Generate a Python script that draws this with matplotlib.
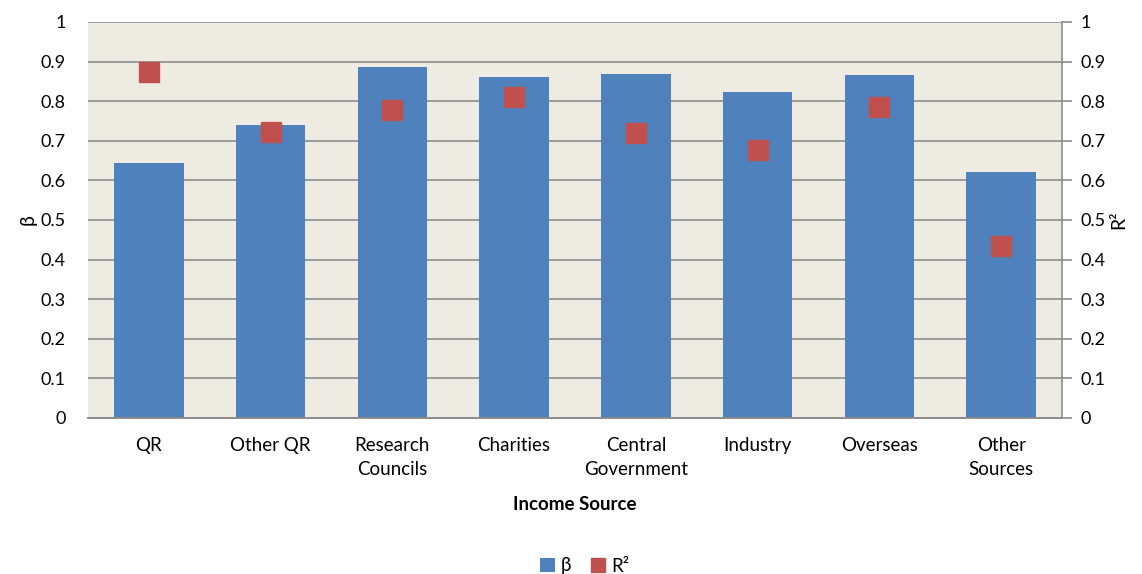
import matplotlib
matplotlib.use("Agg")
import matplotlib.pyplot as plt
import numpy as np
from matplotlib.patches import Patch
from matplotlib.lines import Line2D

categories = ["QR", "Other QR", "Research\nCouncils", "Charities", "Central\nGovernment",
              "Industry", "Overseas", "Other\nSources"]
beta = [0.644, 0.740, 0.886, 0.861, 0.868, 0.823, 0.865, 0.621]
r2 = [0.874, 0.722, 0.778, 0.811, 0.720, 0.677, 0.785, 0.434]
yticks = [0, 0.1, 0.2, 0.3, 0.4, 0.5, 0.6, 0.7, 0.8, 0.9, 1]
ytick_labels = ["0", "0.1", "0.2", "0.3", "0.4", "0.5", "0.6", "0.7", "0.8", "0.9", "1"]

plt.rcParams['font.family'] = ['Lato', 'DejaVu Sans']

fig = plt.figure(figsize=(11.42, 5.74), dpi=100)
ax = fig.add_axes([88/1142, 1-418/574, (1062-88)/1142, (418-22)/574])
ax.set_facecolor("#EEECE2")

x = np.arange(len(categories))
ax.bar(x, beta, width=0.57, color="#4F81BD", zorder=2)
ax2 = ax.twinx()
ax2.plot(x, r2, linestyle="none", marker="s", markersize=15, color="#C0504D", zorder=3)

ax.set_xlim(-0.5, len(categories)-0.5)
for a in (ax, ax2):
    a.set_ylim(0, 1)
    a.set_yticks(yticks)
    a.set_yticklabels(ytick_labels, fontsize=13)
ax.yaxis.grid(True, color="#8C8C8C", linewidth=1.2, zorder=0)
ax.set_axisbelow(True)
ax.tick_params(axis="y", length=0, pad=16)
ax2.tick_params(axis="y", length=7, color="#8C8C8C", width=1.2, pad=6)
ax.tick_params(axis="x", length=0, pad=14)
ax.set_xticks(x)
ax.set_xticklabels(categories, fontsize=13.5, linespacing=1.45)

for a in (ax, ax2):
    for s in ["top", "left"]:
        a.spines[s].set_visible(False)
    a.spines["right"].set_visible(False)
    a.spines["bottom"].set_color("#8C8C8C")
    a.spines["bottom"].set_linewidth(1.2)
ax2.spines["right"].set_visible(True)
ax2.spines["right"].set_color("#8C8C8C")
ax2.spines["right"].set_linewidth(1.2)

ax.set_xlabel("Income Source", fontsize=13.5, fontweight="bold", labelpad=13)
ax.set_ylabel("β", fontsize=14, labelpad=3)
ax2.set_ylabel("R²", fontsize=14, rotation=90, labelpad=4)

handles = [Patch(facecolor="#4F81BD", label="β"),
           Line2D([], [], linestyle="none", marker="s", markersize=10, color="#C0504D", label="R²")]
fig.legend(handles=handles, loc="center", bbox_to_anchor=(0.512, 1-566/574), ncol=2,
           frameon=False, fontsize=13.5, handlelength=0.8, handleheight=0.8,
           handletextpad=0.3, columnspacing=1.0)

fig.savefig("out.png", dpi=100, facecolor="white")
